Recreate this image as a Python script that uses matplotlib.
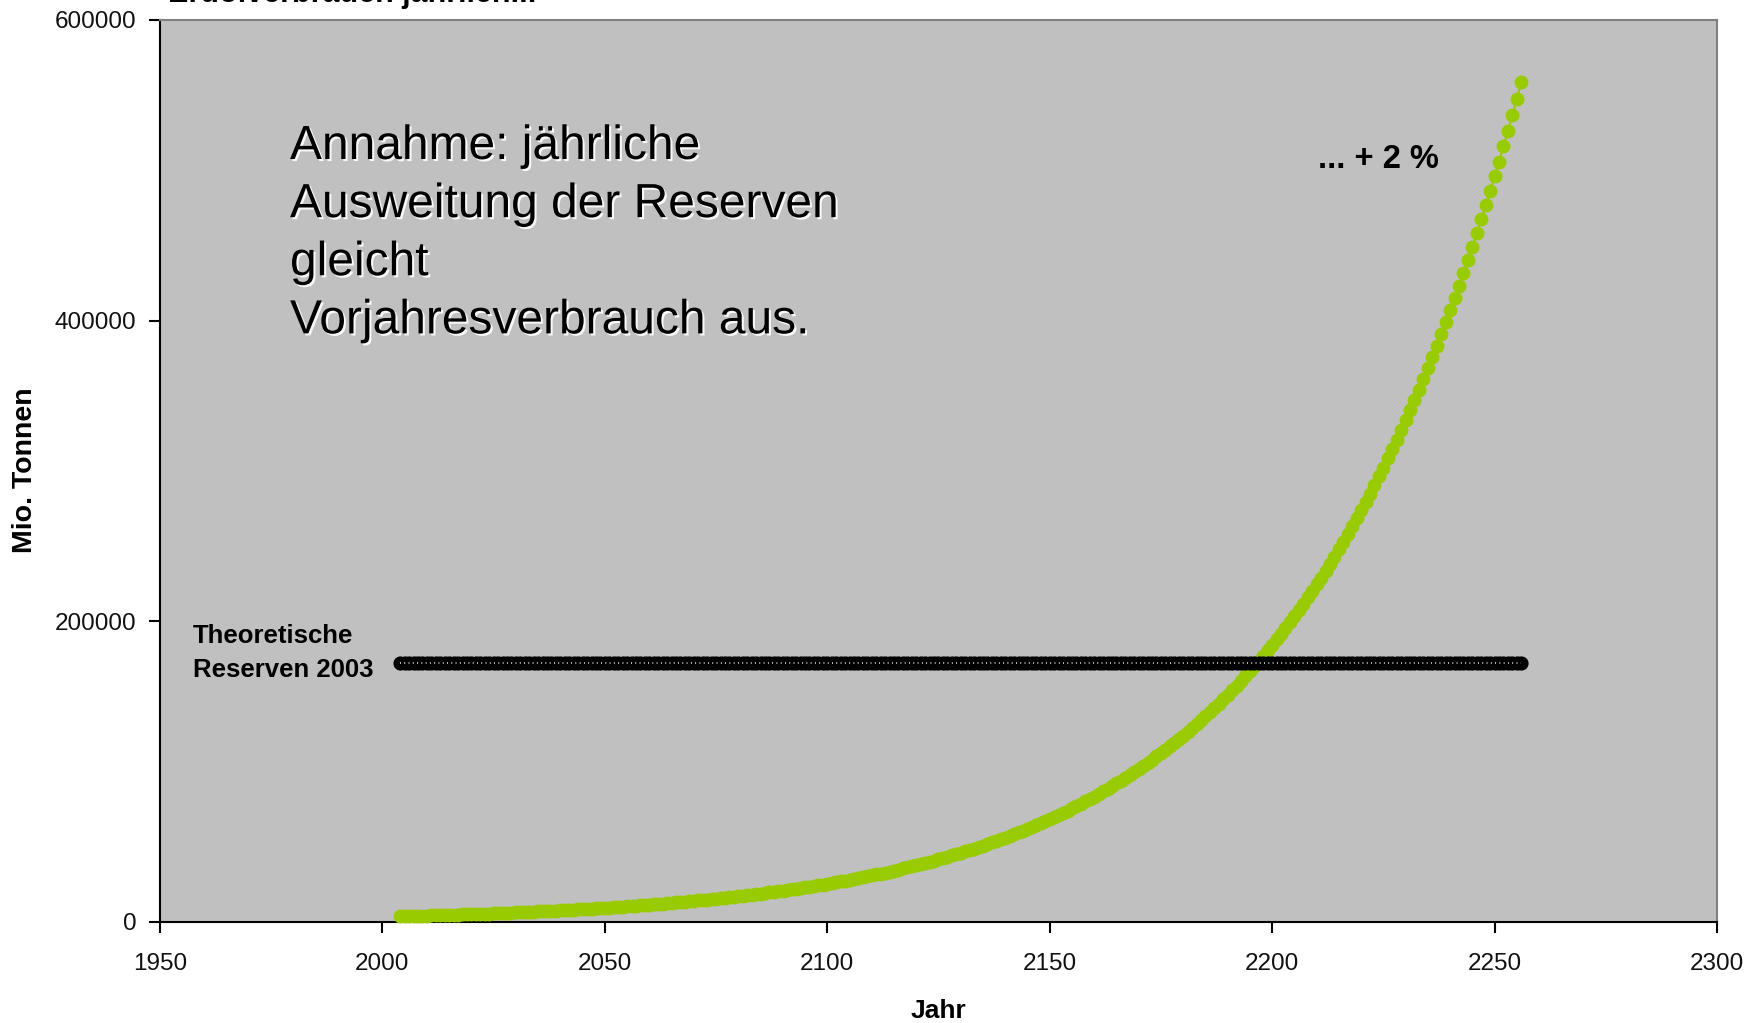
import numpy as np
import matplotlib
matplotlib.use("Agg")
import matplotlib.pyplot as plt
import matplotlib.patheffects as pe

# ---- data ----
start_year = 2004
consumption = [
    3800, 3876, 3954, 4033, 4113, 4196, 4279, 4365, 4452, 4541,
    4632, 4725, 4819, 4916, 5014, 5114, 5217, 5321, 5427, 5536,
    5647, 5760, 5875, 5992, 6112, 6234, 6359, 6486, 6616, 6748,
    6883, 7021, 7161, 7305, 7451, 7600, 7752, 7907, 8065, 8226,
    8391, 8559, 8730, 8904, 9082, 9264, 9449, 9638, 9831, 10028,
    10228, 10433, 10641, 10854, 11071, 11293, 11518, 11749, 11984, 12223,
    12468, 12717, 12972, 13231, 13496, 13765, 14041, 14322, 14608, 14900,
    15198, 15502, 15812, 16129, 16451, 16780, 17116, 17458, 17807, 18164,
    18527, 18897, 19275, 19661, 20054, 20455, 20864, 21281, 21707, 22141,
    22584, 23035, 23496, 23966, 24445, 24934, 25433, 25942, 26461, 26990,
    27530, 28081, 28642, 29215, 29799, 30395, 31003, 31623, 32256, 32901,
    33558, 34229, 34914, 35612, 36325, 37051, 37792, 38548, 39319, 40105,
    40908, 41726, 42560, 43412, 44280, 45166, 46069, 46990, 47930, 48889,
    49866, 50863, 51881, 52918, 53977, 55056, 56157, 57281, 58426, 59595,
    60787, 62002, 63242, 64507, 65797, 67113, 68456, 69825, 71221, 72646,
    74099, 75581, 77092, 78634, 80207, 81811, 83447, 85116, 86819, 88555,
    90326, 92132, 93975, 95854, 97771, 99727, 101721, 103756, 105831, 107947,
    110107, 112309, 114555, 116846, 119183, 121567, 123998, 126478, 129008, 131588,
    134219, 136904, 139642, 142435, 145283, 148189, 151153, 154176, 157259, 160404,
    163612, 166884, 170222, 173626, 177099, 180641, 184254, 187939, 191697, 195531,
    199443, 203432, 207500, 211650, 215883, 220201, 224605, 229097, 233679, 238352,
    243119, 247981, 252941, 258000, 263160, 268423, 273791, 279267, 284853, 290550,
    296359, 302286, 308332, 314499, 320789, 327204, 333748, 340423, 347232, 354176,
    361261, 368486, 375856, 383373, 391040, 398861, 406838, 414975, 423274, 431740,
    440377, 449185, 458168, 467332, 476678, 486212, 495936, 505855, 515972, 526291,
    536822, 547558, 558509,
]
years = list(range(start_year, start_year + len(consumption)))
reserves_value = 172000
reserves = [reserves_value] * len(years)

x_ticks = [1950, 2000, 2050, 2100, 2150, 2200, 2250, 2300]
y_ticks = [0, 200000, 400000, 600000]

title_text = "Erdölverbrauch jährlich..."
ylabel_text = "Mio. Tonnen"
xlabel_text = "Jahr"
reserve_label = "Theoretische\nReserven 2003"
growth_label = "... + 2 %"
note_text = "Annahme: jährliche\nAusweitung der Reserven\ngleicht\nVorjahresverbrauch aus."

# ---- figure ----
plt.rcParams['font.family'] = ['Liberation Sans', 'DejaVu Sans']
W, H = 1756, 1023
fig = plt.figure(figsize=(W / 100, H / 100), dpi=100)
fig.patch.set_facecolor('white')
ax = fig.add_axes([160 / W, 1 - 922 / H, (1717 - 160) / W, (922 - 20) / H])
ax.set_facecolor('#C0C0C0')

ax.plot(years, consumption, color='#99CC00', lw=1.5, marker='o', ms=9,
        mfc='#99CC00', mec='#99CC00', zorder=3, clip_on=False)
# reserves: dense chain of markers forming a black band
ax.plot(years, reserves, color='black', lw=8.5, solid_capstyle='round',
        marker='o', ms=9, mfc='black', mec='black', mew=1.2, zorder=4,
        clip_on=False)
ax.plot(years, reserves, color='white', lw=1.1, linestyle=(0, (0.6, 2.2)),
        zorder=5, clip_on=False)

ax.set_xlim(1950, 2300)
ax.set_ylim(0, 600000)
ax.set_xticks(x_ticks)
ax.set_yticks(y_ticks)
ax.set_xticklabels([str(v) for v in x_ticks], fontsize=17.5, color='#111111')
ax.set_yticklabels([str(v) for v in y_ticks], fontsize=17.5, color='#111111')
ax.tick_params(axis='both', direction='out', length=8, width=1.5, colors='black',
               labelcolor='#111111')
ax.tick_params(axis='x', pad=14)
ax.tick_params(axis='y', pad=9)

for s in ['left', 'bottom']:
    ax.spines[s].set_color('black')
    ax.spines[s].set_linewidth(1.5)
for s in ['top', 'right']:
    ax.spines[s].set_color('#808080')
    ax.spines[s].set_linewidth(1.5)

fig.text(25 / W, 1 - 470 / H, ylabel_text, rotation=90, ha='center', va='center',
         fontsize=20.5, fontweight='bold')
fig.text(938 / W, 1 - 1011 / H, xlabel_text, ha='center', va='center',
         fontsize=19, fontweight='bold')
fig.text(168 / W, 1 - 2 / H, title_text, ha='left', va='baseline',
         fontsize=22, fontweight='bold')

fig.text(193 / W, 1 - 653 / H, reserve_label, ha='left', va='center',
         fontsize=18.5, fontweight='bold', linespacing=1.55)
fig.text(1318 / W, 1 - 160 / H, growth_label, ha='left', va='center',
         fontsize=23.5, fontweight='bold')
t = fig.text(290 / W, 1 - 124 / H, note_text, ha='left', va='top',
             fontsize=34.5, linespacing=1.375)
t.set_path_effects([pe.withSimplePatchShadow(offset=(1.5, -1.5),
                                             shadow_rgbFace='white', alpha=0.9)])

fig.savefig('out.png', dpi=100)
